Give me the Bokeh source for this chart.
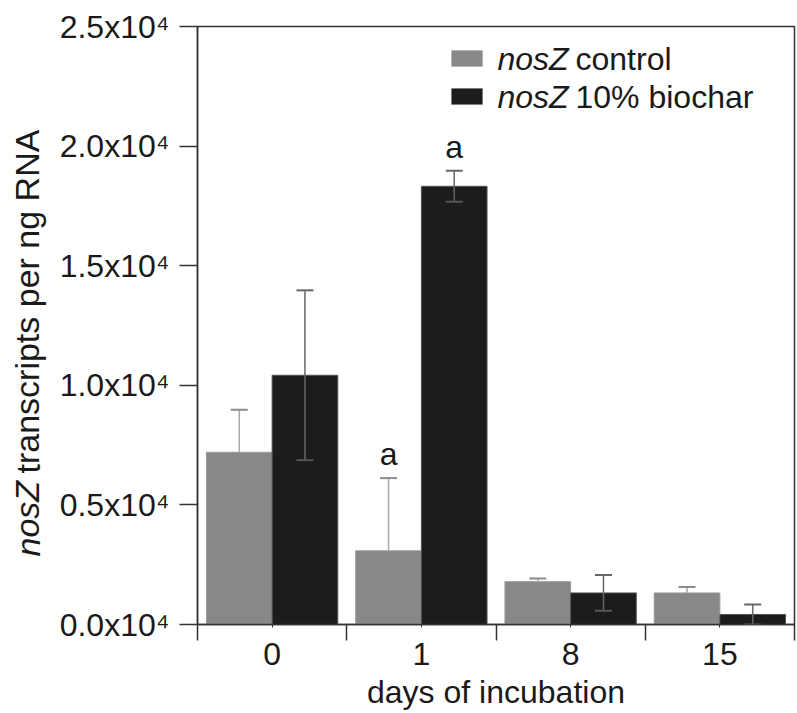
from bokeh.plotting import figure
from bokeh.layouts import row
from bokeh.models import (Range1d, FixedTicker, Whisker, TeeHead, ColumnDataSource,
                          Label, BoxAnnotation)
from bokeh.core.properties import value
from bokeh.embed import file_html
from bokeh.resources import INLINE

# ---- data ----
days = ["0", "1", "8", "15"]
control = [7200, 3080, 1790, 1320]
control_err = [1780, 3040, 130, 250]
biochar = [10420, 18320, 1320, 420]
biochar_err = [3550, 650, 750, 420]
control_letters = ["", "a", "", ""]
biochar_letters = ["", "a", "", ""]
y_ticks = [0, 5000, 10000, 15000, 20000, 25000]
y_tick_labels = ["0.0x10\u2074", "0.5x10\u2074", "1.0x10\u2074", "1.5x10\u2074",
                 "2.0x10\u2074", "2.5x10\u2074"]

FONT = "Liberation Sans"
FS = "32px"
BAR_W = 0.44
TXT = "#1a1a1a"
AX = "#333333"

n = len(days)
centers = [i + 0.5 for i in range(n)]

src_c = ColumnDataSource(dict(
    x=[c - BAR_W / 2 for c in centers], top=control,
    lower=control, upper=[m + e for m, e in zip(control, control_err)],
    letter=control_letters))
src_b = ColumnDataSource(dict(
    x=[c + BAR_W / 2 for c in centers], top=biochar,
    lower=[m - e for m, e in zip(biochar, biochar_err)],
    upper=[m + e for m, e in zip(biochar, biochar_err)],
    letter=biochar_letters))

LEFT_W = 52
H = 713

# narrow panel holding the rotated y-axis title (mixed italic)
p0 = figure(width=LEFT_W, height=H, output_backend="svg", toolbar_location=None,
            x_range=Range1d(0, 1), y_range=Range1d(0, 1),
            x_axis_type=None, y_axis_type=None,
            min_border_left=0, min_border_right=0, min_border_top=0, min_border_bottom=0)
p0.outline_line_color = None
p0.grid.visible = False
p0.add_layout(Label(x=27, y=68, x_units="screen", y_units="screen", angle=1.5708,
                    text="nosZ", text_font=FONT, text_font_size="34px", text_font_style="italic",
                    text_align="left", text_baseline="middle", text_color=TXT))
p0.add_layout(Label(x=27, y=151, x_units="screen", y_units="screen", angle=1.5708,
                    text="transcripts per ng RNA", text_font=FONT, text_font_size="34px",
                    text_align="left", text_baseline="middle", text_color=TXT))

p = figure(width=797 - LEFT_W, height=H, output_backend="svg", toolbar_location=None,
           x_range=Range1d(0, n), y_range=Range1d(0, 25000),
           min_border_left=197 - LEFT_W, min_border_right=3, min_border_top=26,
           min_border_bottom=89)
p.xgrid.visible = False
p.ygrid.visible = False
p.outline_line_color = AX
p.outline_line_width = 1.5

p.vbar(x="x", top="top", bottom=0, width=BAR_W, source=src_c,
       fill_color="#888888", line_color="#9a9a9a", line_width=1)
p.vbar(x="x", top="top", bottom=0, width=BAR_W, source=src_b,
       fill_color="#1c1c1c", line_color="#555555", line_width=1)

wc = Whisker(source=src_c, base="x", lower="lower", upper="upper", dimension="height",
             line_color="#a8a8a8", line_width=1.5, level="overlay",
             upper_head=TeeHead(size=17, line_color="#8c8c8c", line_width=2),
             lower_head=None)
wb = Whisker(source=src_b, base="x", lower="lower", upper="upper", dimension="height",
             line_color="#666666", line_width=1.5, level="overlay",
             upper_head=TeeHead(size=17, line_color="#666666", line_width=2),
             lower_head=TeeHead(size=17, line_color="#555555", line_width=2))
p.add_layout(wc)
p.add_layout(wb)

for s in (src_c, src_b):
    p.text(x="x", y="upper", text="letter", source=s, text_font=value(FONT),
           text_font_size=FS, text_align="center", text_baseline="alphabetic",
           y_offset=-24, text_color=TXT)

# axes
xa = p.xaxis[0]
xa.ticker = FixedTicker(ticks=centers, minor_ticks=list(range(n + 1)))
xa.major_label_overrides = {c: d for c, d in zip(centers, days)}
xa.major_tick_in = 0
xa.major_tick_out = 3
xa.minor_tick_in = 0
xa.minor_tick_out = 16
xa.minor_tick_line_color = AX
xa.minor_tick_line_width = 1.5
xa.major_tick_line_color = AX
xa.axis_line_color = AX
xa.axis_line_width = 1.5
xa.major_label_text_font = FONT
xa.major_label_text_font_size = FS
xa.major_label_text_color = TXT
xa.major_label_standoff = 2
xa.axis_label = "days of incubation"
xa.axis_label_text_font = FONT
xa.axis_label_text_font_size = FS
xa.axis_label_text_font_style = "normal"
xa.axis_label_text_color = TXT
xa.axis_label_standoff = 6

ya = p.yaxis[0]
ya.ticker = FixedTicker(ticks=y_ticks, minor_ticks=[])
ya.major_label_overrides = {t: l for t, l in zip(y_ticks, y_tick_labels)}
ya.major_tick_in = 0
ya.major_tick_out = 18
ya.minor_tick_out = 0
ya.minor_tick_in = 0
ya.major_tick_line_color = AX
ya.major_tick_line_width = 1.5
ya.axis_line_color = AX
ya.axis_line_width = 1.5
ya.major_label_text_font = FONT
ya.major_label_text_font_size = FS
ya.major_label_text_color = TXT
ya.major_label_standoff = 10

# legend (frame-relative screen units)
legend_rows = [("#888888", "#9a9a9a", "control", 566),
               ("#1c1c1c", "#555555", "10% biochar", 528)]
for fill, line, txt, yc in legend_rows:
    p.add_layout(BoxAnnotation(left=254, right=285, top=yc + 8, bottom=yc - 8,
                               left_units="screen", right_units="screen",
                               top_units="screen", bottom_units="screen",
                               fill_color=fill, fill_alpha=1, line_color=line,
                               line_width=1, level="overlay"))
    p.add_layout(Label(x=300, y=yc, x_units="screen", y_units="screen", text="nosZ",
                       text_font=FONT, text_font_size=FS, text_font_style="italic",
                       text_baseline="middle", text_color=TXT))
    p.add_layout(Label(x=378, y=yc, x_units="screen", y_units="screen", text=txt,
                       text_font=FONT, text_font_size=FS,
                       text_baseline="middle", text_color=TXT))

open("out.html", "w").write(file_html(row(p0, p), INLINE))
